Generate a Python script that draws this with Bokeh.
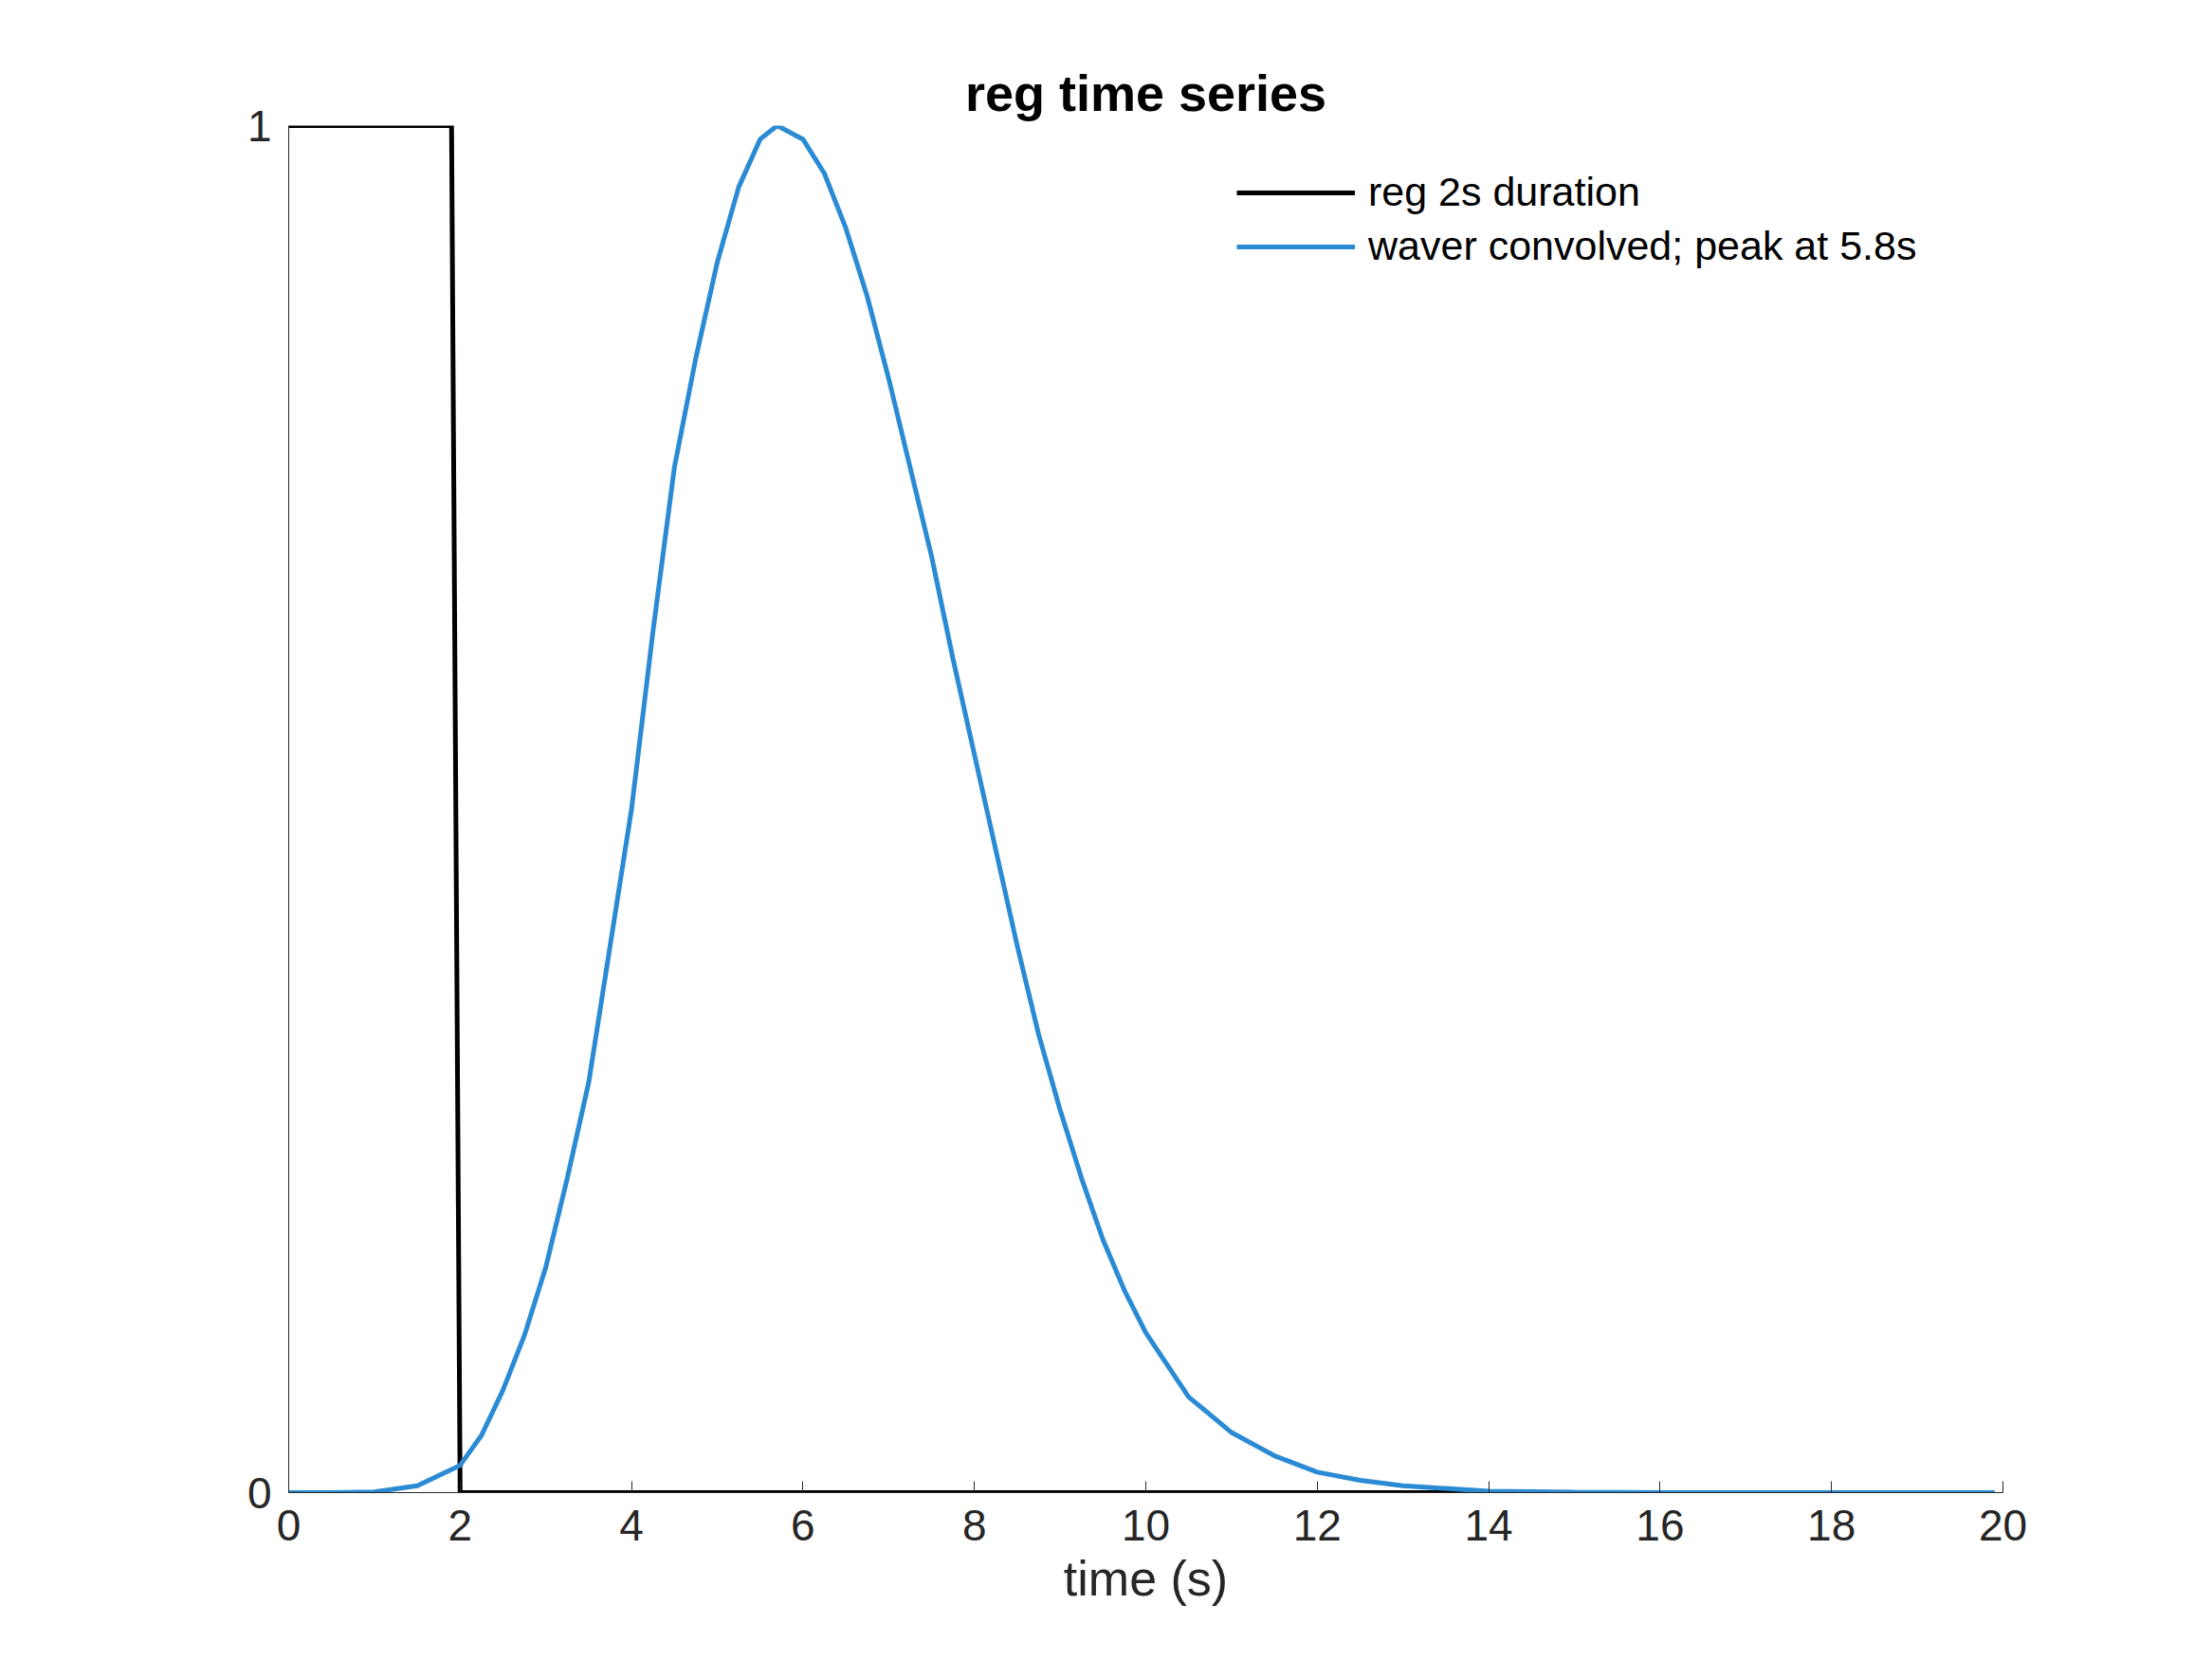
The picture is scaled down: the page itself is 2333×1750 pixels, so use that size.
from bokeh.plotting import figure
from bokeh.models import Range1d, FixedTicker, Legend, LegendItem
from bokeh.embed import file_html
from bokeh.resources import INLINE

reg_t = [0, 1.9, 2.0, 19.9]
reg_y = [1, 1, 0, 0]

wav_t = [0, 0.5, 1, 1.5, 2, 2.25, 2.5, 2.75, 3, 3.25, 3.5, 3.75, 4, 4.25, 4.5, 4.75, 5, 5.25,
         5.5, 5.7, 6, 6.25, 6.5, 6.75, 7, 7.25, 7.5, 7.75, 8, 8.25, 8.5, 8.75, 9, 9.25, 9.5,
         9.75, 10, 10.5, 11, 11.5, 12, 12.5, 13, 14, 15, 16, 19.9]
wav_y = [0, 0, 0.0005, 0.005, 0.02, 0.042, 0.075, 0.115, 0.165, 0.23, 0.30, 0.40, 0.50,
         0.63, 0.75, 0.83, 0.90, 0.955, 0.99, 1.0, 0.99, 0.965, 0.925, 0.875, 0.815, 0.75,
         0.685, 0.61, 0.54, 0.47, 0.40, 0.335, 0.28, 0.23, 0.185, 0.148, 0.117, 0.07, 0.044,
         0.027, 0.015, 0.009, 0.005, 0.001, 0.0003, 0, 0]

FONT = "Liberation Sans"

p = figure(width=2317, height=1734, output_backend="svg", toolbar_location=None,
           x_range=Range1d(0, 20), y_range=Range1d(0, 1),
           min_border_left=304, min_border_right=205, min_border_top=132, min_border_bottom=160)
p.title.text = "reg time series"
p.title.align = "center"
p.title.text_font = FONT
p.title.text_font_size = "54px"
p.title.text_font_style = "bold"
p.title.text_color = "black"
p.title.standoff = 10
p.grid.visible = False
p.outline_line_color = None

r1 = p.line(reg_t, reg_y, line_color="black", line_width=5)
r2 = p.line(wav_t, wav_y, line_color="#2a8ad4", line_width=5)

p.xaxis.ticker = FixedTicker(ticks=list(range(0, 21, 2)))
p.yaxis.ticker = FixedTicker(ticks=[0, 1])
for ax in (p.xaxis, p.yaxis):
    ax.major_label_text_font = FONT
    ax.major_label_text_font_size = "46px"
    ax.major_label_text_color = "#262626"
    ax.axis_line_color = "#262626"
    ax.major_tick_line_color = "#262626"
    ax.minor_tick_line_color = None
    ax.major_tick_in = 12
    ax.major_tick_out = 0
    ax.major_label_standoff = 18
p.yaxis.major_tick_line_color = None
p.xaxis.axis_label = "time (s)"
p.xaxis.axis_label_text_font = FONT
p.xaxis.axis_label_text_font_size = "52px"
p.xaxis.axis_label_text_font_style = "normal"
p.xaxis.axis_label_text_color = "#262626"
p.xaxis.axis_label_standoff = 8

legend = Legend(items=[LegendItem(label="reg 2s duration", renderers=[r1]),
                       LegendItem(label="waver convolved; peak at 5.8s", renderers=[r2])],
                location=(1000, 1290), border_line_color=None, background_fill_alpha=0,
                label_text_font=FONT, label_text_font_size="43px", label_text_color="black",
                glyph_width=125, spacing=8, label_standoff=14)
p.add_layout(legend)

open("out.html", "w").write(file_html(p, INLINE))
